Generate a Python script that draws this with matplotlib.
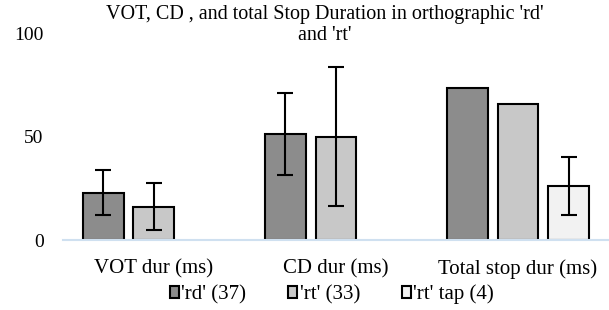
import numpy as np
import matplotlib
matplotlib.use("Agg")
import matplotlib.pyplot as plt

plt.rcParams["font.family"] = ["Liberation Serif", "DejaVu Serif"]

categories = ["VOT dur (ms)", "CD dur (ms)", "Total stop dur (ms)"]
series_names = ["'rd' (37)", "'rt' (33)", "'rt' tap (4)"]
rd_vals = [22.9, 51.2, 73.6]
rd_err = [11.0, 20.0, np.nan]
rt_vals = [16.1, 49.9, 65.6]
rt_err = [11.5, 33.5, np.nan]
tap_vals = [np.nan, np.nan, 26.1]
tap_err = [np.nan, np.nan, 14.0]
colors = ["#8c8c8c", "#c8c8c8", "#f2f2f2"]
title = "VOT, CD , and total Stop Duration in orthographic 'rd'\nand 'rt'"

fig = plt.figure(figsize=(6.09, 3.10), dpi=100)
ax = fig.add_axes([0.1034, 0.2258, 0.8966, 0.6677])

x = np.arange(len(categories))
step = 0.2775
width = 0.225
for i, (vals, errs, col, name) in enumerate(zip(
        [rd_vals, rt_vals, tap_vals], [rd_err, rt_err, tap_err], colors, series_names)):
    pos = x + (i - 1) * step
    ax.bar(pos, vals, width, color=col, edgecolor="black", linewidth=1.5, label=name, zorder=2)
    ax.errorbar(pos, vals, yerr=errs, fmt="none", ecolor="black", elinewidth=1.5,
                capsize=5.5, capthick=1.5, zorder=3)

ax.set_xlim(-0.5, 2.5)
ax.set_ylim(0, 100)
ax.set_yticks([0, 50, 100])
ax.set_xticks(x)
ax.set_xticklabels(categories, fontsize=15)
ax.tick_params(axis="y", length=0, pad=14, labelsize=14)
ax.tick_params(axis="x", length=0, pad=14)
for s in ["top", "right", "left"]:
    ax.spines[s].set_visible(False)
ax.spines["bottom"].set_color("#cfe0f0")
ax.spines["bottom"].set_linewidth(1.5)

fig.text(0.533, 0.985, title, ha="center", va="top", fontsize=14.5, linespacing=1.2)

handles, labels = ax.get_legend_handles_labels()
fig.legend(handles, labels, loc="center", bbox_to_anchor=(0.545, 0.05), ncol=3,
           frameon=False, fontsize=15, handlelength=0.45, handleheight=0.45,
           handletextpad=0.1, columnspacing=2.0)

fig.savefig("out.png", dpi=100)
